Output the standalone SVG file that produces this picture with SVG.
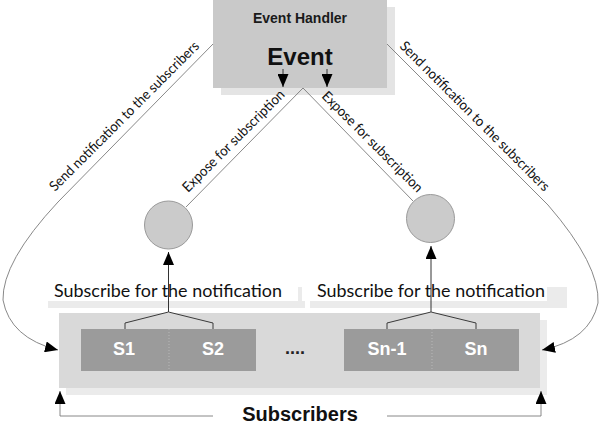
<svg xmlns="http://www.w3.org/2000/svg" width="600" height="430" viewBox="0 0 600 430">
<style>
.conn{fill:none;stroke:#7a7a7a;stroke-width:0.9}
.br{fill:none;stroke:#3a3a3a;stroke-width:1}
.ar{fill:none;stroke:#333;stroke-width:1}
.lbl{font-family:Lato,"Liberation Sans",sans-serif;font-size:14px;fill:#111}
.sub{font-family:Lato,"Liberation Sans",sans-serif;font-size:17px;fill:#111}
.bold{font-family:"Liberation Sans",Arial,sans-serif;font-weight:bold}
.s{font-family:"Liberation Sans",Arial,sans-serif;font-weight:bold;font-size:18px;fill:#fff;text-anchor:middle}
.circ{fill:#cbcbcb;stroke:#9a9a9a;stroke-width:1}
</style>
<defs>
<marker id="ah" markerUnits="userSpaceOnUse" markerWidth="14" markerHeight="11" refX="13" refY="5.5" orient="auto">
<path d="M0,0 L13,5.5 L0,11 z" fill="#000"/>
</marker>
</defs>
<rect width="600" height="430" fill="#fff"/>

<g id="event-handler">
<rect x="221" y="7" width="174" height="88" fill="#e4e4e4"/>
<rect x="213" y="0" width="174" height="88" fill="#c9c9c9"/>
<text class="bold" x="300" y="23" font-size="14" text-anchor="middle" fill="#1a1a1a">Event Handler</text>
<text class="bold" x="300" y="65" font-size="24" text-anchor="middle" fill="#111">Event</text>
</g>

<g id="circle-left"><circle class="circ" cx="168.5" cy="225" r="24"/></g>
<g id="circle-right"><circle class="circ" cx="430.5" cy="218.5" r="24"/></g>

<g id="label-subscribe-left">
<rect x="48" y="287" width="257" height="21" fill="#ebebeb"/>
<rect x="40" y="270" width="258" height="31" fill="#fff"/>
<text class="sub" x="54" y="297" textLength="228" lengthAdjust="spacingAndGlyphs">Subscribe for the notification</text>
</g>
<g id="label-subscribe-right">
<rect x="310" y="287" width="257" height="21" fill="#ebebeb"/>
<rect x="302" y="270" width="245" height="31" fill="#fff"/>
<text class="sub" x="317" y="297" textLength="228" lengthAdjust="spacingAndGlyphs">Subscribe for the notification</text>
</g>

<g id="subscribers">
<rect x="66" y="320" width="481" height="75" fill="#ebebeb"/>
<rect x="59" y="313" width="481" height="75" fill="#d9d9d9"/>
<text class="bold" x="300" y="421" font-size="20" text-anchor="middle" fill="#111">Subscribers</text>
</g>

<g id="s1-s2">
<rect x="81" y="329" width="175" height="42" fill="#9b9b9b"/>
<line x1="169" y1="329" x2="169" y2="371" stroke="#b8b8b8" stroke-dasharray="1,2"/>
<text class="s" x="124" y="355">S1</text>
<text class="s" x="213" y="355">S2</text>
</g>
<g id="dots"><text class="bold" x="295" y="354" font-size="18" text-anchor="middle" fill="#222">....</text></g>
<g id="sn1-sn">
<rect x="344" y="329" width="175" height="42" fill="#9b9b9b"/>
<line x1="432" y1="329" x2="432" y2="371" stroke="#b8b8b8" stroke-dasharray="1,2"/>
<text class="s" x="387" y="355">Sn-1</text>
<text class="s" x="476" y="355">Sn</text>
</g>

<g id="connectors">
<line class="ar" x1="283" y1="69" x2="283" y2="87" marker-end="url(#ah)"/>
<line class="ar" x1="327" y1="69" x2="327" y2="87" marker-end="url(#ah)"/>
<polyline class="conn" points="186,207 303,88 413,201"/>
<path class="conn" d="M213,44 L58,202 Q2,262 3,300 Q10,338 58,350" marker-end="url(#ah)"/>
<path class="conn" d="M387,44 L548,205 Q600,265 598,303 Q590,340 542,350" marker-end="url(#ah)"/>
<line class="ar" x1="168.5" y1="312" x2="168.5" y2="252" marker-end="url(#ah)"/>
<line class="ar" x1="431" y1="312" x2="431" y2="246" marker-end="url(#ah)"/>
<polyline class="br" points="125,329 125,323 168.5,312 213,323 213,329"/>
<polyline class="br" points="387,329 387,323 431,312 476,323 476,329"/>
<polyline class="conn" points="213,416 60,416 60,391" marker-end="url(#ah)"/>
<polyline class="conn" points="387,416 541,416 541,391" marker-end="url(#ah)"/>
<text class="lbl" transform="translate(55,192) rotate(-45)" textLength="205" lengthAdjust="spacingAndGlyphs">Send notification to the subscribers</text>
<text class="lbl" transform="translate(399,47) rotate(45)" textLength="205" lengthAdjust="spacingAndGlyphs">Send notification to the subscribers</text>
<text class="lbl" transform="translate(188,193) rotate(-45)" textLength="138" lengthAdjust="spacingAndGlyphs">Expose for subscription</text>
<text class="lbl" transform="translate(321,97) rotate(45)" textLength="136" lengthAdjust="spacingAndGlyphs">Expose for subscription</text>
</g>
</svg>
